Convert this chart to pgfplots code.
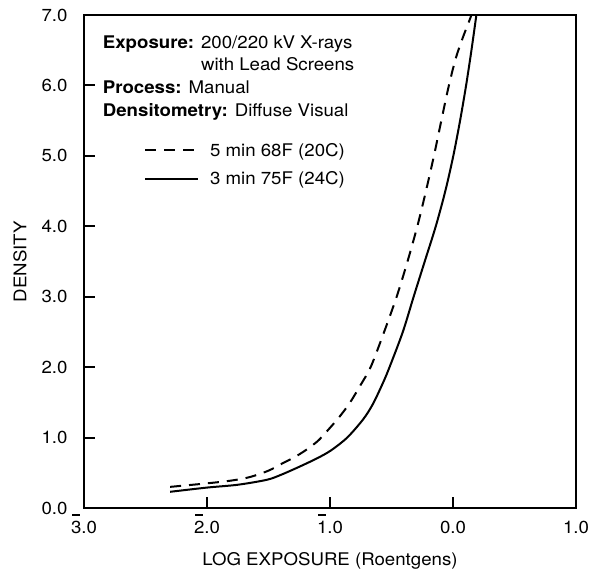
\documentclass[border=0pt]{standalone}
\usepackage{pgfplots}
\pgfplotsset{compat=1.18}
\usepackage{fontspec}
\setmainfont{TeX Gyre Heros}[FakeStretch=1.07]
\newcommand{\bd}[1]{\setbox0\hbox{#1}\leavevmode\rlap{\hbox to\wd0{\hss\raisebox{0.98em}{\rule{0.44em}{0.09em}}\hss}}\box0}
\newcommand{\nb}[1]{#1}
\newcommand{\fs}{\fontsize{17.5}{20}\selectfont}
\pgfplotstableread{
x y
-2.30 0.30
-2.00 0.35
-1.80 0.39
-1.65 0.44
-1.50 0.53
-1.38 0.64
-1.28 0.73
-1.19 0.83
-1.10 0.95
-1.03 1.08
-0.93 1.28
-0.84 1.49
-0.75 1.75
-0.667 2.01
-0.56 2.50
-0.458 3.00
-0.37 3.50
-0.287 4.02
-0.22 4.50
-0.155 5.00
-0.095 5.50
-0.04 5.95
0.02 6.37
0.08 6.68
0.122 6.87
0.15 7.00
}\dashedtbl
\pgfplotstableread{
x y
-2.30 0.23
-2.00 0.29
-1.75 0.33
-1.515 0.40
-1.40 0.47
-1.244 0.59
-1.10 0.71
-0.99 0.82
-0.86 1.00
-0.73 1.26
-0.65 1.48
-0.566 1.79
-0.516 2.00
-0.408 2.50
-0.32 3.00
-0.23 3.50
-0.14 4.00
-0.0625 4.50
0.0025 5.00
0.0575 5.50
0.1065 6.00
0.150 6.50
0.190 7.00
}\solidtbl
\begin{document}
\begin{tikzpicture}
\useasboundingbox (0,0) rectangle (589bp,577bp);
\begin{axis}[
  at={(84bp,69bp)}, anchor=south west,
  scale only axis, width=492bp, height=493bp,
  xmin=-3, xmax=1, ymin=0, ymax=7,
  axis line style={line width=2.2bp},
  xtick={-3,-2,-1,0,1},
  xticklabels={\bd{3}.0,\bd{2}.0,\bd{1}.0,\nb{0}.0,\nb{1}.0},
  ytick={0,1,2,3,4,5,6,7},
  yticklabels={0.0,1.0,2.0,3.0,4.0,5.0,6.0,7.0},
  xtick pos=bottom, ytick pos=left, tick align=inside,
  major tick length=11bp,
  every tick/.style={black, line width=2bp},
  tick label style={font=\fs},
  xticklabel style={anchor=base, yshift=-25bp},
  yticklabel style={anchor=east, xshift=-13bp},
  every axis x label/.style={at={(axis description cs:0.5,0)}, anchor=base, yshift=-57bp, font=\fs},
  every axis y label/.style={at={(axis description cs:-0.117,0.5)}, rotate=90, anchor=base, font=\fs},
  xlabel={LOG EXPOSURE (Roentgens)},
  ylabel={DENSITY},
  legend style={at={(axis cs:-2.51,5.185)}, anchor=north west, draw=none, fill=none, font=\fs, row sep=14bp, column sep=11bp, inner sep=0pt, nodes={inner sep=0pt}},
  legend cell align=left,
  legend image code/.code={\draw[#1] (0bp,0bp) -- (52.6bp,0bp);},
]
\addplot[black, line width=2bp, dash pattern=on 11bp off 8bp, smooth] table[x=x,y=y] {\dashedtbl};
\addlegendentry{5 min 68F (20C)}
\addplot[black, line width=2bp, smooth] table[x=x,y=y] {\solidtbl};
\addlegendentry{3 min 75F (24C)}
\node[anchor=base west, font=\fs, inner sep=0pt] at (axis cs:-2.848,6.530) {\textbf{Exposure:} 200/220 kV X-rays};
\node[anchor=base west, font=\fs, inner sep=0pt] at (axis cs:-2.848,6.207) {\phantom{\textbf{Exposure:} }with Lead Screens};
\node[anchor=base west, font=\fs, inner sep=0pt] at (axis cs:-2.848,5.881) {\textbf{Process:} Manual};
\node[anchor=base west, font=\fs, inner sep=0pt] at (axis cs:-2.848,5.558) {\textbf{Densitometry:} Diffuse Visual};
\end{axis}
\end{tikzpicture}
\end{document}
